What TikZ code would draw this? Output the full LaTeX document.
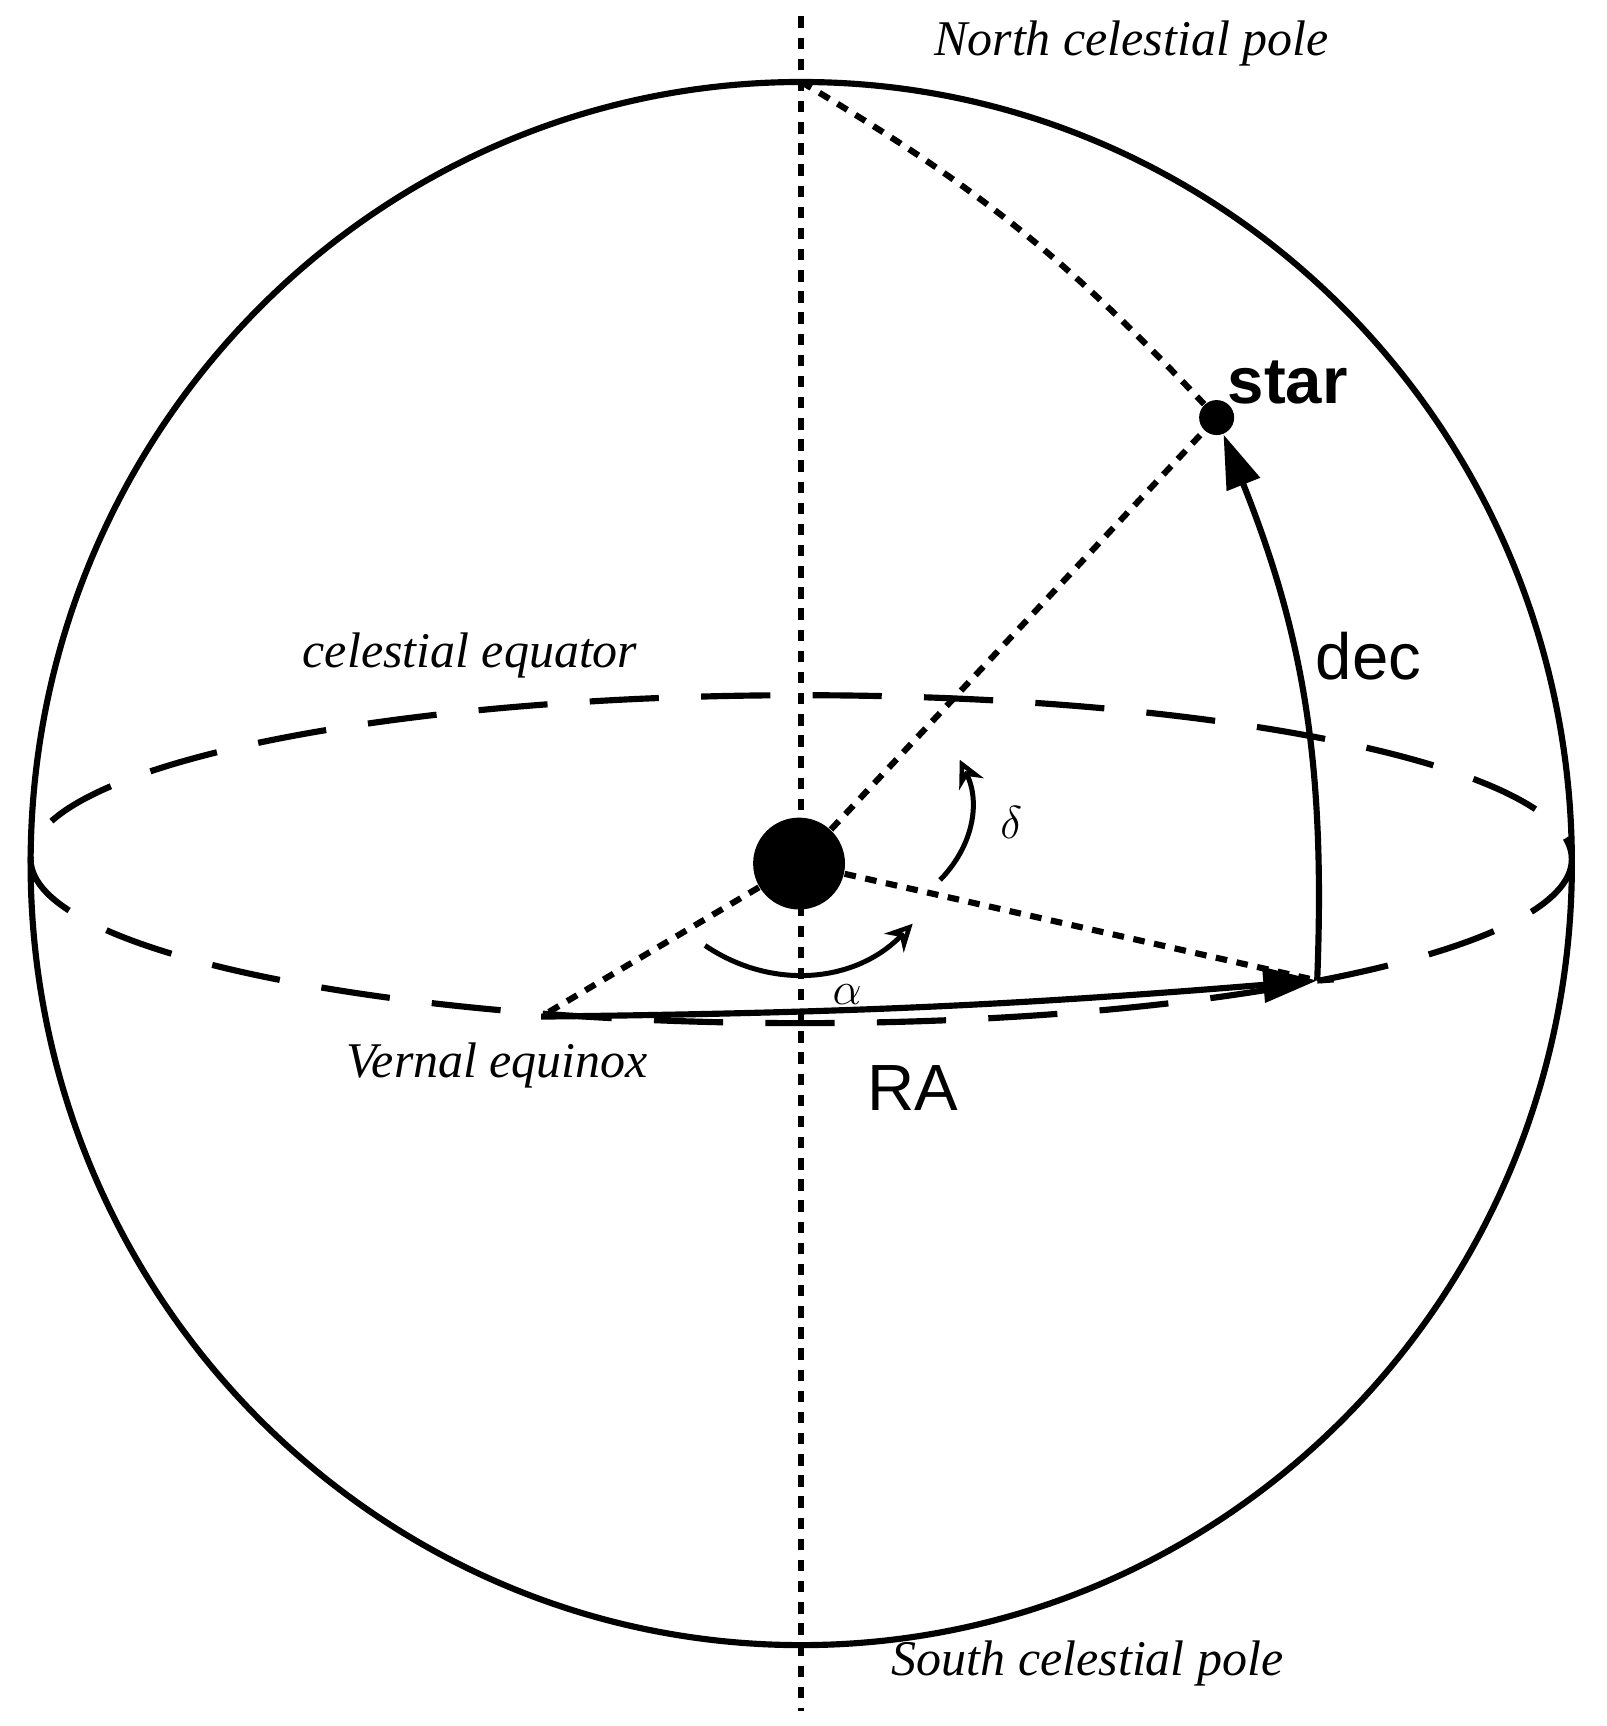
\documentclass[tikz,border=0pt]{standalone}
\usepackage{fontspec}
\setmainfont{Liberation Serif}
\newfontfamily\arialfont{Liberation Sans}
\usetikzlibrary{positioning,arrows.meta}

\begin{document}
\begin{tikzpicture}[x=0.01cm, y=-0.01cm,
    lab/.style={font=\fontsize{13}{15}\selectfont\itshape},
    sanslab/.style={font=\arialfont\fontsize{17}{19}\selectfont},
    dots/.style={line width=1.6pt, dash pattern=on 3pt off 2.5pt},
    arr/.style={line width=1.6pt, -{Triangle[length=14pt, width=9pt]}},
    small arr/.style={line width=1.3pt, -{Stealth[length=7pt, width=7pt, open]}}]

    \useasboundingbox (0,0) rectangle (1470,1579);

    % Sphere and equator
    \draw[line width=1.6pt] (733,790) ellipse [x radius=705, y radius=715];
    \draw[line width=1.6pt, dash pattern=on 18pt off 11pt] (733,786) ellipse [x radius=705, y radius=150];

    % Points
    \coordinate (NP) at (733,75);
    \coordinate (SP) at (733,1505);
    \coordinate (VE) at (495,930);
    \coordinate (EQ) at (1205,897);
    \node (O)[circle, fill, inner sep=0pt, minimum size=0.84cm] at (731,790) {};
    \node (S)[circle, fill, inner sep=0pt, minimum size=0.32cm] at (1113,382) {};

    % Axis
    \coordinate (AT) at (733,15);
    \coordinate (AB) at (733,1565);
    \draw[dots] (AT) -- (AB);

    % Dotted guides
    \draw[dots] (O) -- (S);
    \draw[dots] (O) -- (EQ);
    \draw[dots] (O) -- (VE);
    \draw[dots] (NP) to[bend left=8] (S);

    % RA and dec arrows
    \draw[arr] (VE) to[bend right=2] (EQ);
    \draw[line width=1.6pt] (EQ) -- (1220,896);
    \draw[arr] (EQ) to[bend right=12] (S);

    % Angle arcs
    \coordinate (A1) at (645,865);
    \coordinate (A2) at (835,845);
    \draw[small arr] (A1) to[bend right=40] (A2);
    \coordinate (D1) at (860,805);
    \coordinate (D2) at (878,695);
    \draw[small arr] (D1) to[bend right=35] (D2);

    % Labels
    \node (north)[lab] at (1035,40) {North celestial pole};
    \node (south)[lab] at (995,1522) {South celestial pole};
    \node (equator)[lab] at (430,600) {celestial equator};
    \node (vernal)[lab] at (455,975) {Vernal equinox};
    \node (alpha)[lab] at (775,910) {$\alpha$};
    \node (delta)[lab] at (925,752) {$\delta$};
    \node (ra)[sanslab] at (835,995) {RA};
    \node (dec)[sanslab] at (1252,600) {dec};
    \node (star)[sanslab, font=\arialfont\bfseries\fontsize{17}{19}\selectfont] at (1178,350) {star};
\end{tikzpicture}
\end{document}
